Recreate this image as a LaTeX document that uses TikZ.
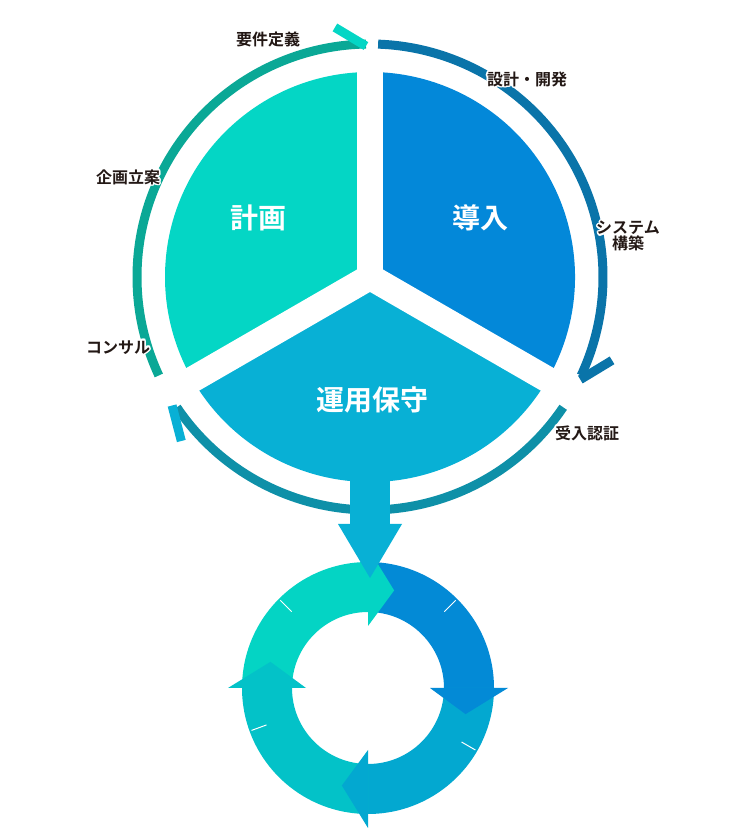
\documentclass[tikz,border=0pt]{standalone}
\usepackage{fontspec}
\setmainfont{Noto Sans CJK JP}[BoldFont={Noto Sans CJK JP Bold}]
\usepackage{contour}
\contourlength{1.6pt}
\usetikzlibrary{calc}
\definecolor{plan}{HTML}{04D6C5}
\definecolor{intro}{HTML}{0388D9}
\definecolor{oper}{HTML}{08B0D5}
\definecolor{arcg}{HTML}{0AA896}
\definecolor{arcb}{HTML}{0A74A9}
\definecolor{arct}{HTML}{0E90A8}
\definecolor{txt}{HTML}{231815}
\definecolor{cyg}{HTML}{04D4C4}
\definecolor{cyb}{HTML}{038AD6}
\definecolor{cyl}{HTML}{03A8D0}
\definecolor{cyt}{HTML}{03C2C8}
\begin{document}
\begin{tikzpicture}[x=1pt,y=1pt,
  seg/.style={font=\bfseries\fontsize{28}{30}\selectfont,text=white},
  step label/.style={font=\bfseries\fontsize{16}{18}\selectfont,text=txt,align=center},
  ring/.style={line width=9pt},
  barb/.style={line width=9pt}]
 \useasboundingbox (0,0) rectangle (743,830);
 \coordinate (pc) at (370,553);
 \coordinate (cc) at (368,142);

 % pie
 \fill[plan] (pc) -- ++(90:205) arc[start angle=90,end angle=210,radius=205] -- cycle;
 \fill[intro] (pc) -- ++(-30:205) arc[start angle=-30,end angle=90,radius=205] -- cycle;
 \fill[oper] (pc) -- ++(210:205) arc[start angle=210,end angle=330,radius=205] -- cycle;
 \foreach \a in {90,210,330}
   \draw[white,line width=26pt] (pc) -- ++(\a:215);
 \node[seg] (plan) at (258,612) {計画};
 \node[seg] (intro) at (480,612) {導入};
 \node[seg] (oper) at (372,430) {運用保守};

 % outer arcs
 \draw[ring,arcg] (pc) ++(205:233) arc[start angle=205,end angle=91,radius=233];
 \draw[barb,plan] ($(pc)+(91:231)$) -- ($(pc)+(98:252)$);
 \draw[ring,arcb] (pc) ++(88:233) arc[start angle=88,end angle=-25,radius=233];
 \draw[barb,arcb] ($(pc)+(-26:234)$) -- ($(pc)+(-19:256)$);
 \draw[ring,arct] (pc) ++(-34:233) arc[start angle=-34,end angle=-146,radius=233];
 \draw[barb,oper] ($(pc)+(213:236)$) -- ($(pc)+(221:250)$);

 \node[step label] (req) at (268,790) {\contour{white}{要件定義}};
 \node[step label] (des) at (527,750) {\contour{white}{設計・開発}};
 \node[step label,inner sep=0pt] (sys) at (628,593) {\contour{white}{システム}\\[-2pt]\contour{white}{構築}};
 \node[step label] (pln) at (128,652) {\contour{white}{企画立案}};
 \node[step label] (con) at (118,482) {\contour{white}{コンサル}};
 \node[step label] (acc) at (587,396) {\contour{white}{受入認証}};

 % cycle
 \foreach \s/\c in {180/cyg,90/cyb,0/cyl,-90/cyt}
   \fill[\c] (cc) ++(\s:126) arc[start angle=\s,end angle=\s-90,radius=126]
     -- ($(cc)+(\s-90:76)$) arc[start angle=\s-90,end angle=\s,radius=76] -- cycle;
 \foreach \s/\c in {180/cyg,90/cyb,0/cyl,-90/cyt}
   \fill[\c] ($(cc)+(\s-90:62)$) -- ($(cc)+(\s-90:140)$) -- ($(cc)+(\s-105:101)$) -- cycle;
 \foreach \a in {135,45,-30,-160}
   \draw[white,line width=1pt] ($(cc)+(\a:108)$) -- ($(cc)+(\a:124)$);

 % down arrow
 \fill[oper] (350,352) rectangle (390,305);
 \fill[oper] (338,306) -- (402,306) -- (370,252) -- cycle;
\end{tikzpicture}
\end{document}
